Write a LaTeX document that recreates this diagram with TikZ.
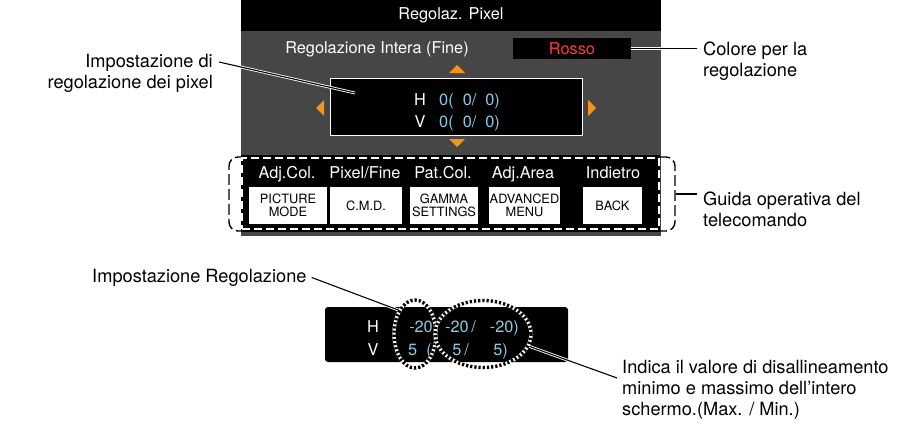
\documentclass[tikz,border=0pt]{standalone}
\usepackage{fontspec}
\setmainfont{TeX Gyre Heros}
\usetikzlibrary{shapes.geometric}
\definecolor{PanelGray}{HTML}{464646}
\definecolor{ValBlue}{HTML}{8CCBE3}
\definecolor{MarkRed}{HTML}{FF3B30}
\definecolor{ArrOrange}{HTML}{F7941D}
\newcommand{\lblfont}{\fontsize{18.2}{21}\selectfont}
\newcommand{\osdfont}{\fontsize{16.3}{19}\selectfont}
\newcommand{\btnfont}{\fontsize{12.8}{13.5}\selectfont}
\tikzset{
  osdtext/.style={text=white,font=\osdfont,inner sep=0,text height=11.5pt,text depth=3.5pt},
  valtext/.style={text=ValBlue,font=\osdfont,inner sep=0,text height=11.5pt,text depth=3.5pt},
  btnbox/.style={fill=white,minimum height=37pt,inner sep=0,align=center,font=\btnfont},
  callout/.style={font=\lblfont,inner sep=0},
  leader/.style={black,line width=1.1pt,preaction={draw=white,line width=2.8pt}},
  spot/.style={ellipse,draw=white,line width=3.4pt,inner sep=0,postaction={draw=black,line width=3.4pt,dash pattern=on 2.2pt off 2pt}}
}

\begin{document}
\begin{tikzpicture}[x=1pt,y=-1pt]
\useasboundingbox (0,0) rectangle (920,428);

\node (pnl)[fill=PanelGray,minimum width=420pt,minimum height=236pt,inner sep=0] at (451,118) {};
\node (ttl)[fill=black,text=white,font=\osdfont,minimum width=420pt,minimum height=31pt,inner sep=0] at (451,15.5) {Regolaz. Pixel};

\node (fine)[osdtext] at (377,49) {Regolazione Intera (Fine)};
\node (rosso)[fill=black,text=MarkRed,font=\osdfont,minimum width=118pt,minimum height=21pt,inner sep=0] at (572,48.5) {Rosso};

\node (adj)[fill=black,draw=white,line width=1pt,minimum width=252pt,minimum height=57pt,inner sep=0] at (456,106.5) {};
\node (hh)[osdtext] at (420,101) {H};
\node (vv)[osdtext] at (420,123) {V};
\node (hval)[valtext,anchor=west] at (439,101) {0(\ \ 0/\ \ 0)};
\node (vval)[valtext,anchor=west] at (439,123) {0(\ \ 0/\ \ 0)};

\fill[ArrOrange] (449,73) -- (465,73) -- (457,65) -- cycle;
\fill[ArrOrange] (449,139) -- (465,139) -- (457,147) -- cycle;
\fill[ArrOrange] (324,100) -- (324,116) -- (316,108) -- cycle;
\fill[ArrOrange] (588,100) -- (588,116) -- (596,108) -- cycle;

\node (guide)[draw=black,line width=1.4pt,dash pattern=on 11pt off 4pt,rounded corners=9pt,minimum width=446pt,minimum height=74pt,inner sep=0] at (452,194) {};
\node (bar)[fill=black,minimum width=419pt,minimum height=77pt,inner sep=0] at (450.5,193.5) {};
\node (barframe)[draw=white,line width=1.2pt,dash pattern=on 8pt off 4pt,minimum width=417pt,minimum height=71pt,inner sep=0] at (450.5,193.5) {};

\node (lb1)[osdtext] at (287,174) {Adj.Col.};
\node (lb2)[osdtext] at (365,174) {Pixel/Fine};
\node (lb3)[osdtext] at (443,174) {Pat.Col.};
\node (lb4)[osdtext] at (523,174) {Adj.Area};
\node (lb5)[osdtext] at (613,174) {Indietro};

\node (bt1)[btnbox,minimum width=78pt] at (288,205.5) {PICTURE\\MODE};
\node (bt2)[btnbox,minimum width=72pt] at (366,205.5) {C.M.D.};
\node (bt3)[btnbox,minimum width=68pt] at (444,205.5) {GAMMA\\SETTINGS};
\node (bt4)[btnbox,minimum width=71pt] at (524.5,205.5) {ADVANCED\\MENU};
\node (bt5)[btnbox,minimum width=59pt] at (612.5,205.5) {BACK};

\node (vbox)[fill=black,rounded corners=3pt,minimum width=243pt,minimum height=55pt,inner sep=0] at (446.5,334.5) {};
\node (bh)[osdtext] at (373,328) {H};
\node (bv)[osdtext] at (373,351) {V};
\node (hmin)[valtext,anchor=east] at (433,328) {-20};
\node (hlo)[valtext,anchor=west] at (445,328) {-20\,/};
\node (hhi)[valtext,anchor=east] at (519,328) {-20)};
\node (vmin)[valtext,anchor=west] at (408,351) {5\ \ (};
\node (vlo)[valtext,anchor=east] at (469,351) {5\,/};
\node (vhi)[valtext,anchor=east] at (508,351) {5)};

\node (spotl)[spot,minimum width=42pt,minimum height=68pt] at (415,334) {};
\node (spotr)[spot,minimum width=96pt,minimum height=67pt] at (483,334) {};

\node (pxlbl)[callout,align=right,anchor=north east] at (213,54) {Impostazione di\\regolazione dei pixel};
\node (colore)[callout,align=left,anchor=north west] at (703,42) {Colore per la\\regolazione};
\node (guida)[callout,align=left,anchor=north west] at (703,192) {Guida operativa del\\telecomando};
\node (impreg)[callout,anchor=west] at (92,277.5) {Impostazione Regolazione};
\node (indica)[callout,align=left,anchor=north west] at (622,360) {Indica il valore di disallineamento\\minimo e massimo dell’intero\\schermo.(Max. / Min.)};

\coordinate (pxtip) at (355,93);

\draw[leader] ([xshift=6pt,yshift=-8pt]pxlbl.north east)--(pxtip) node {};
\draw[leader] (rosso.east)--([xshift=-6pt]rosso.east -| colore.west) node {};
\draw[line width=1.1pt] (guide.east)--([xshift=-6pt]guide.east -| guida.west) node {};
\draw[leader] ([xshift=5pt]impreg.east)--(spotl.125) node {};
\draw[leader] (spotr.-15)--([xshift=-5pt,yshift=-18pt]indica.north west) node {};

\end{tikzpicture}
\end{document}
